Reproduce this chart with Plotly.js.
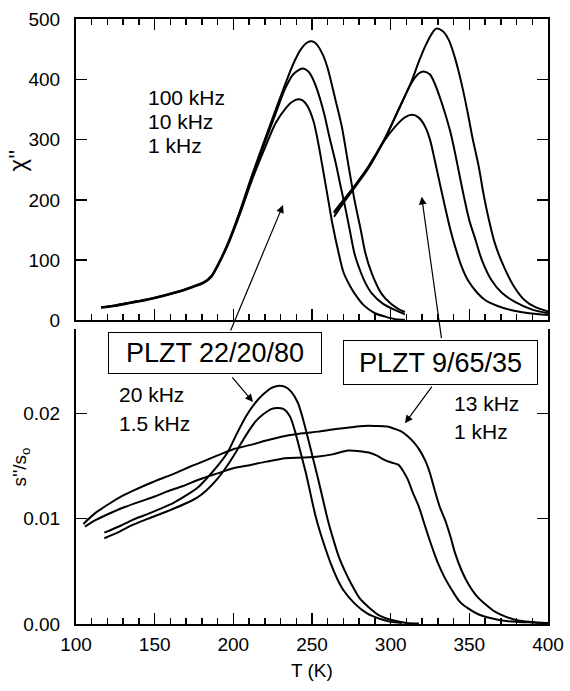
<!DOCTYPE html>
<html>
<head>
<meta charset="utf-8">
<script src="https://cdn.plot.ly/plotly-3.0.1.min.js"></script>
<style>html,body{margin:0;padding:0;background:#fff;}</style>
</head>
<body>
<div id="chart" style="width:570px;height:691px;"></div>
<script>
// ---- Top panel: chi'' vs T ----
// PLZT 22/20/80
const tA_1k   = [116,125,135,145,155,165,175,181,186,191,197,204,212,220,227,233,237,241,244,247,251,254,257,260,263,267,270,274,277,283,290,297,303,309];
const chiA_1k = [21,24,29,34,40,47,56,62,72,95,128,175,234,286,328,351,362,367,365,356,330,294,250,205,160,111,80,58,45,25,12,6,2,1];
const tA_10k   = [116,125,135,145,155,165,175,181,186,191,197,204,212,220,227,233,238,244,248,251,254,258,261,265,268,271,274,277,281,284,288,295,303,309];
const chiA_10k = [22,25,30,35,41,48,57,63,73,96,130,178,239,295,344,385,408,418,412,398,377,340,305,262,225,189,150,111,80,62,45,28,17,10];
const tA_100k   = [116,125,135,145,155,165,175,181,186,191,197,204,212,220,227,233,238,243,247,250,253,257,260,265,269,273,277,281,284,288,294,300,305,309];
const chiA_100k = [22,25,30,35,41,48,57,63,74,97,131,180,242,300,350,392,425,450,461,463,458,440,418,365,321,260,200,150,111,78,45,28,19,14];
// PLZT 9/65/35
const tB_1k   = [264,270,277,286,296,303,309,314,318,322,325,328,331,334.5,338,341,345,349,355,360,368,377,388,400];
const chiB_1k = [172,195,220,253,298,322,337,341,336,321,300,266,230,189,150,122,90,67,46,34,24,17,12,9];
const tB_10k   = [264,270,277,286,296,305,313,318,321,325,328,331,334.5,338,341,344,347,350,354,358,364,371,379,390,400];
const chiB_10k = [178,199,222,255,300,349,393,410,413,408,393,372,344,312,277,238,200,166,133,100,67,45,31,18,12];
const tB_100k   = [264,270,277,286,296,305,313,318,322,326,329,333,337,340,343,346,349,352,356,359,362,366,371,378,385,392,400];
const chiB_100k = [180,200,223,256,300,350,395,430,455,475,484,480,465,443,415,382,344,303,255,210,172,130,95,58,34,22,15];

// ---- Bottom panel: s''/s_o vs T ----
// PLZT 22/20/80
const tA_20k = [118,128,136,145,153,162,170,177,183,190,196,202,208,214,219,224,228,233,237,241,244,248,251,254,257,260,263,267,271,275,280,286,293,300,310,318];
const sA_20k = [0.00867,0.0093,0.00988,0.0104,0.0109,0.0115,0.0122,0.0129,0.0138,0.0150,0.0162,0.0180,0.0197,0.0210,0.0218,0.0224,0.0226,0.0225,0.0220,0.0210,0.0196,0.0173,0.0155,0.0137,0.0118,0.0099,0.0083,0.0064,0.0050,0.0038,0.0025,0.0016,0.0008,0.0004,0.0001,0.00005];
const tA_15k = [118,128,136,146,158,170,177,183,190,196,202,208,214,219,224,228,232,236,239,242,246,249,252,255,258,262,266,270,277,285,292,300,307];
const sA_15k = [0.00814,0.0088,0.0094,0.0100,0.0107,0.01146,0.0120,0.0127,0.0138,0.0150,0.0164,0.0179,0.0192,0.0199,0.0204,0.0205,0.0204,0.0197,0.0184,0.0167,0.0144,0.0124,0.0104,0.0088,0.0074,0.0057,0.0043,0.0032,0.00196,0.0010,0.00054,0.0002,0.0001];
// PLZT 9/65/35
const tB_13k = [104.7,112,121.6,130,136.4,147,156,164,172,179,190,200,211,221,233,244,254,265,275,283,290,298,303,307,311,315,318,322,325,328,331,334.5,338,341,345,349,355,360,366,373,382,392,400];
const sB_13k = [0.0095,0.0105,0.01146,0.0122,0.01266,0.01336,0.0139,0.01437,0.0149,0.01532,0.0160,0.01659,0.0170,0.01741,0.01785,0.0181,0.01826,0.0185,0.01868,0.0188,0.0188,0.01874,0.0185,0.01826,0.0178,0.0172,0.0166,0.0155,0.0143,0.0127,0.0112,0.0099,0.0083,0.0067,0.0051,0.0039,0.0026,0.0019,0.0012,0.0007,0.0003,0.00015,0.0001];
const tB_1kS = [105.7,113,121.6,131,140.7,150,157.6,168,178.8,190,200,211,221,233,244,254,263,273,280,286,291,296,301,305,308,311,314,318,321,324,327,330,334,339,344,349,356,364,372,381,390,400];
const sB_1kS = [0.00924,0.0099,0.01051,0.0111,0.01162,0.0121,0.01256,0.0131,0.01374,0.0143,0.01479,0.0151,0.01541,0.01574,0.0158,0.01589,0.0161,0.01646,0.0164,0.01627,0.0160,0.01557,0.0153,0.0151,0.0145,0.01368,0.0125,0.0111,0.0097,0.0083,0.0070,0.0058,0.0045,0.0032,0.0021,0.0015,0.0009,0.00054,0.0003,0.0002,0.00015,0.0001];

const FONT = 'Liberation Sans, Arial, Helvetica, sans-serif';
const lineStyle = {color:'#000', width:2, shape:'spline', smoothing:0.8};

function tr(x, y, xa, ya){ return {x:x, y:y, xaxis:xa, yaxis:ya, mode:'lines', line:lineStyle, hoverinfo:'skip'}; }

const data = [
  tr(tA_1k, chiA_1k, 'x', 'y'),
  tr(tA_10k, chiA_10k, 'x', 'y'),
  tr(tA_100k, chiA_100k, 'x', 'y'),
  tr(tB_1k, chiB_1k, 'x', 'y'),
  tr(tB_10k, chiB_10k, 'x', 'y'),
  tr(tB_100k, chiB_100k, 'x', 'y'),
  tr(tA_20k, sA_20k, 'x2', 'y2'),
  tr(tA_15k, sA_15k, 'x2', 'y2'),
  tr(tB_13k, sB_13k, 'x2', 'y2'),
  tr(tB_1kS, sB_1kS, 'x2', 'y2')
];

const axBase = {
  showgrid:false, zeroline:false, showline:true, linecolor:'#000', linewidth:2,
  ticks:'inside', ticklen:11, tickwidth:1.5, tickcolor:'#000',
  tickfont:{family:FONT, size:19, color:'#000'}
};
const minorX = {dtick:10, ticks:'inside', ticklen:6, tickwidth:1.5, tickcolor:'#000', showgrid:false};

const txt = (t, x, y, xr, yr, size, xa) => ({text:t, x:x, y:y, xref:xr, yref:yr, showarrow:false,
  xanchor:xa||'left', yanchor:'middle', font:{family:FONT, size:size, color:'#000'}});

const arrow = (x, y, xr, yr, ax, ay) => ({text:'', x:x, y:y, xref:xr, yref:yr, showarrow:true,
  ax:ax, ay:ay, arrowhead:2, arrowsize:1.3, arrowwidth:1.2, arrowcolor:'#000', standoff:0, startstandoff:0,
  font:{size:1}});

const layout = {
  width:570, height:691,
  margin:{l:76, r:22, t:19, b:67, pad:0},
  paper_bgcolor:'#fff', plot_bgcolor:'rgba(0,0,0,0)',
  showlegend:false,
  font:{family:FONT, color:'#000'},
  xaxis: Object.assign({}, axBase, {domain:[0,1], anchor:'y', range:[100,400], dtick:50, tick0:100,
    mirror:'ticks', showticklabels:false, minor:minorX}),
  yaxis: Object.assign({}, axBase, {domain:[0.5017,1], anchor:'x', range:[0,500], dtick:100,
    mirror:'ticks', ticklabelstandoff:10}),
  xaxis2: Object.assign({}, axBase, {domain:[0,1], anchor:'y2', range:[100,400], dtick:50, tick0:100,
    mirror:false, minor:minorX, ticklabelstandoff:2}),
  yaxis2: Object.assign({}, axBase, {domain:[0,0.4876], anchor:'x2', range:[0,0.028], dtick:0.01, tick0:0,
    tickformat:'.2f', mirror:'ticks', ticklabelstandoff:10}),
  annotations: [
    txt('100 kHz', 144.5, 370.6, 'x', 'y', 21),
    txt('10 kHz', 144.5, 330.8, 'x', 'y', 21),
    txt('1 kHz', 144.5, 289.4, 'x', 'y', 21),
    txt('20 kHz', 125.9, 0.02175, 'x2', 'y2', 21),
    txt('1.5 kHz', 125.9, 0.01904, 'x2', 'y2', 21),
    txt('13 kHz', 338.8, 0.02089, 'x2', 'y2', 21),
    txt('1 kHz', 338.8, 0.01828, 'x2', 'y2', 21),
    arrow(231.6, 191.5, 'x', 'y', -53, 127),
    arrow(212.5, 0.02108, 'x2', 'y2', -22, -26),
    arrow(319.7, 205.3, 'x', 'y', 20, 143),
    arrow(309.1, 0.01906, 'x2', 'y2', 28, -38),
    {text:'PLZT 22/20/80', x:188.3, y:0.02574, xref:'x2', yref:'y2', showarrow:false,
     xanchor:'center', yanchor:'middle', width:212, height:40, bgcolor:'#fff',
     bordercolor:'#000', borderwidth:1, borderpad:0, font:{family:FONT, size:27, color:'#000'}},
    {text:'PLZT 9/65/35', x:331.8, y:0.02483, xref:'x2', yref:'y2', showarrow:false,
     xanchor:'center', yanchor:'middle', width:193, height:43, bgcolor:'#fff',
     bordercolor:'#000', borderwidth:1, borderpad:0, font:{family:FONT, size:27, color:'#000'}},
    {text:"χ''", x:-0.124, y:0.767, xref:'paper', yref:'paper', showarrow:false, textangle:-90,
     xanchor:'center', yanchor:'middle', font:{family:FONT, size:24, color:'#000'}},
    {text:"s''/s<sub>o</sub>", x:-0.117, y:0.26, xref:'paper', yref:'paper', showarrow:false, textangle:-90,
     xanchor:'center', yanchor:'middle', font:{family:FONT, size:19, color:'#000'}},
    {text:'T (K)', x:0.5, y:-0.077, xref:'paper', yref:'paper', showarrow:false,
     xanchor:'center', yanchor:'middle', font:{family:FONT, size:19, color:'#000'}}
  ]
};

Plotly.newPlot('chart', data, layout, {displayModeBar:false, staticPlot:true});
</script>
</body>
</html>
